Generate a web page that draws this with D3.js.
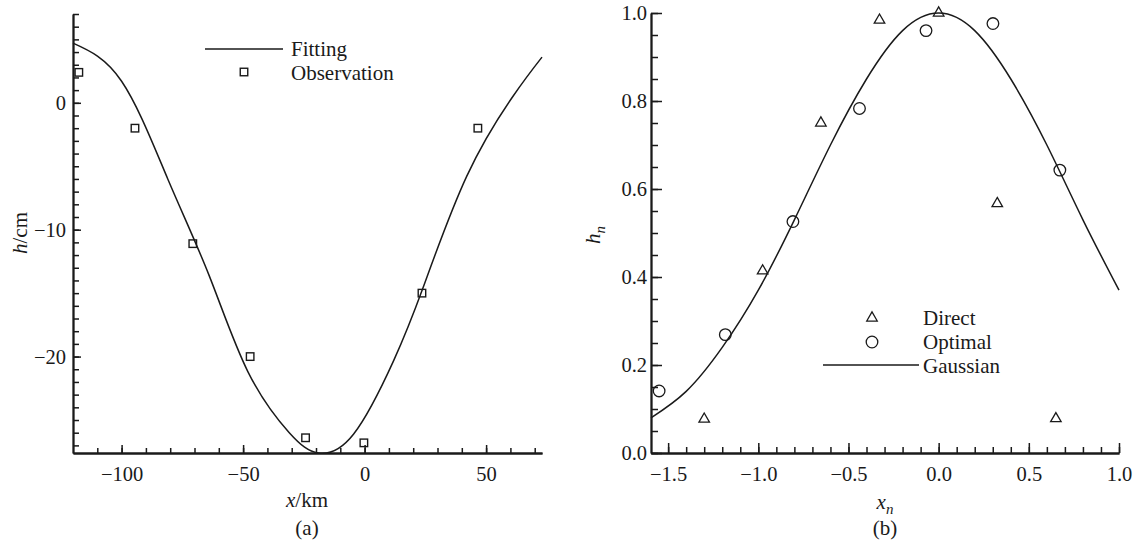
<!DOCTYPE html>
<html>
<head>
<meta charset="utf-8">
<script src="https://cdn.jsdelivr.net/npm/d3@7"></script>
<style>
  body { margin: 0; background: #fff; }
  svg text { font-family: "Liberation Serif", "Times New Roman", serif; fill: #1a1a1a; }
</style>
</head>
<body>
<div id="wrapper"></div>
<script>
// panel (a): fitted curve
const fitX = [-120, -100, -81, -64, -48, -31, -19, -4.5, 12, 24, 42, 61, 73]
const fitH = [4.7, 1.7, -6.0, -13.6, -21.2, -26.0, -27.6, -26.1, -20.3, -14.6, -5.8, 0.5, 3.6]

// panel (a): observations
const obsX = [-117.6, -94.5, -70.7, -47.1, -24.3, -0.3, 23.6, 46.6]
const obsH = [2.4, -2.0, -11.1, -20.0, -26.4, -26.8, -15.0, -2.0]

// panel (b): gaussian curve
const gaussX = [-1.595, -1.4, -1.2, -1.0, -0.8, -0.6, -0.4, -0.2, 0, 0.2, 0.4, 0.6, 0.8, 1.0]
const gaussH = [0.08, 0.14, 0.24, 0.37, 0.53, 0.70, 0.85, 0.96, 1.0, 0.96, 0.85, 0.70, 0.53, 0.37]

// panel (b): direct and optimal points
const directX = [-1.30, -0.976, -0.653, -0.328, 0.0, 0.325, 0.65]
const directH = [0.077, 0.414, 0.75, 0.984, 1.0, 0.567, 0.078]
const optimalX = [-1.55, -1.183, -0.808, -0.439, -0.07, 0.301, 0.672]
const optimalH = [0.141, 0.269, 0.526, 0.783, 0.960, 0.976, 0.643]

// ticks
const aXTicks = [-100, -50, 0, 50]
const aYTicks = [-20, -10, 0]
const bXTicks = [-1.5, -1.0, -0.5, 0.0, 0.5, 1.0]
const bYTicks = [0.0, 0.2, 0.4, 0.6, 0.8, 1.0]

const legendA = ["Fitting", "Observation"]
const legendB = ["Direct", "Optimal", "Gaussian"]

const serif = "'Liberation Serif', 'Times New Roman', serif"

function drawChart() {

  const dimensions = {
    width: 1135,
    height: 543,
    a: { left: 73, right: 542, top: 14, bottom: 453 },
    b: { left: 651, right: 1119, top: 13, bottom: 453 },
  }

  const svg = d3.select("#wrapper")
    .append("svg")
    .attr("width", dimensions.width)
    .attr("height", dimensions.height)

  const xScaleA = d3.scaleLinear()
    .domain([-120, 73])
    .range([dimensions.a.left, dimensions.a.right])
  const yScaleA = d3.scaleLinear()
    .domain([-27.6, 7])
    .range([dimensions.a.bottom, dimensions.a.top])

  const xScaleB = d3.scaleLinear()
    .domain([-1.595, 1.0])
    .range([dimensions.b.left, dimensions.b.right])
  const yScaleB = d3.scaleLinear()
    .domain([0, 1])
    .range([dimensions.b.bottom, dimensions.b.top])

  // axes with inward ticks, minor ticks drawn as a second axis
  function drawAxes(xScale, yScale, dims, opts) {
    const minorX = svg.append("g")
      .attr("transform", `translate(0,${dims.bottom})`)
      .call(d3.axisBottom(xScale).tickValues(opts.xMinor).tickFormat("").tickSizeInner(-opts.xMinorLen).tickSizeOuter(0))
    const minorY = svg.append("g")
      .attr("transform", `translate(${dims.left},0)`)
      .call(d3.axisLeft(yScale).tickValues(opts.yMinor).tickFormat("").tickSizeInner(-opts.yMinorLen).tickSizeOuter(0))

    const xAxis = svg.append("g")
      .attr("transform", `translate(0,${dims.bottom})`)
      .call(d3.axisBottom(xScale).tickValues(opts.xTicks).tickFormat(opts.xFormat)
        .tickSizeInner(-opts.xMajorLen).tickSizeOuter(0).tickPadding(opts.xPad))
    const yAxis = svg.append("g")
      .attr("transform", `translate(${dims.left},0)`)
      .call(d3.axisLeft(yScale).tickValues(opts.yTicks).tickFormat(opts.yFormat)
        .tickSizeInner(-opts.yMajorLen).tickSizeOuter(0).tickPadding(opts.yPad))

    ;[minorX, minorY, xAxis, yAxis].forEach(g => {
      g.attr("font-family", serif).attr("font-size", 20.5)
      g.select(".domain").attr("stroke", "#1a1a1a").attr("stroke-width", 1.8)
      g.selectAll(".tick line").attr("stroke", "#1a1a1a").attr("stroke-width", 1.5)
      g.selectAll(".tick text")
        .style("font-family", serif)
        .style("font-size", "20.5px")
        .attr("fill", "#1a1a1a")
    })
  }

  drawAxes(xScaleA, yScaleA, dimensions.a, {
    xTicks: aXTicks, yTicks: aYTicks,
    xMinor: d3.range(-110, 73, 10), yMinor: d3.range(-27, 8, 1),
    xFormat: d3.format("d"), yFormat: d3.format("d"),
    xMajorLen: 8, xMinorLen: 5, yMajorLen: 8, yMinorLen: 6,
    xPad: 13, yPad: 7,
  })

  drawAxes(xScaleB, yScaleB, dimensions.b, {
    xTicks: bXTicks, yTicks: bYTicks,
    xMinor: d3.range(-1.5, 1.01, 0.1), yMinor: d3.range(0, 1.01, 0.05),
    xFormat: d3.format(".1f"), yFormat: d3.format(".1f"),
    xMajorLen: 10, xMinorLen: 6, yMajorLen: 11, yMinorLen: 7,
    xPad: 13, yPad: 4,
  })

  // panel (a) marks
  const lineA = d3.line()
    .x(i => xScaleA(fitX[i]))
    .y(i => yScaleA(fitH[i]))
    .curve(d3.curveNatural)

  svg.append("path")
    .attr("d", lineA(d3.range(fitX.length)))
    .attr("fill", "none")
    .attr("stroke", "#1a1a1a")
    .attr("stroke-width", 1.5)

  const sq = 7.5
  svg.append("g").selectAll("rect")
    .data(d3.range(obsX.length))
    .join("rect")
    .attr("x", i => xScaleA(obsX[i]) - sq / 2)
    .attr("y", i => yScaleA(obsH[i]) - sq / 2)
    .attr("width", sq)
    .attr("height", sq)
    .attr("fill", "none")
    .attr("stroke", "#1a1a1a")
    .attr("stroke-width", 1.4)

  // panel (b) marks
  const lineB = d3.line()
    .x(i => xScaleB(gaussX[i]))
    .y(i => yScaleB(gaussH[i]))
    .curve(d3.curveNatural)

  svg.append("path")
    .attr("d", lineB(d3.range(gaussX.length)))
    .attr("fill", "none")
    .attr("stroke", "#1a1a1a")
    .attr("stroke-width", 1.5)

  const triangle = d3.symbol().type(d3.symbolTriangle).size(48)

  svg.append("g").selectAll("path")
    .data(d3.range(directX.length))
    .join("path")
    .attr("d", triangle)
    .attr("transform", i => `translate(${xScaleB(directX[i])},${yScaleB(directH[i])})`)
    .attr("fill", "none")
    .attr("stroke", "#1a1a1a")
    .attr("stroke-width", 1.3)

  svg.append("g").selectAll("circle")
    .data(d3.range(optimalX.length))
    .join("circle")
    .attr("cx", i => xScaleB(optimalX[i]))
    .attr("cy", i => yScaleB(optimalH[i]))
    .attr("r", 5.8)
    .attr("fill", "none")
    .attr("stroke", "#1a1a1a")
    .attr("stroke-width", 1.3)

  // legend (a)
  const legA = svg.append("g")
  legA.append("line")
    .attr("x1", 205).attr("x2", 283)
    .attr("y1", 49).attr("y2", 49)
    .attr("stroke", "#1a1a1a").attr("stroke-width", 1.5)
  legA.append("rect")
    .attr("x", 244 - sq / 2).attr("y", 72 - sq / 2)
    .attr("width", sq).attr("height", sq)
    .attr("fill", "none").attr("stroke", "#1a1a1a").attr("stroke-width", 1.4)
  legA.selectAll("text")
    .data(legendA)
    .join("text")
    .attr("x", 291)
    .attr("y", (d, i) => 56 + i * 24)
    .style("font-size", "21px")
    .text(d => d)

  // legend (b)
  const legB = svg.append("g")
  legB.append("path")
    .attr("d", triangle)
    .attr("transform", "translate(872,318)")
    .attr("fill", "none").attr("stroke", "#1a1a1a").attr("stroke-width", 1.3)
  legB.append("circle")
    .attr("cx", 872).attr("cy", 342).attr("r", 5.8)
    .attr("fill", "none").attr("stroke", "#1a1a1a").attr("stroke-width", 1.3)
  legB.append("line")
    .attr("x1", 823).attr("x2", 919)
    .attr("y1", 365).attr("y2", 365)
    .attr("stroke", "#1a1a1a").attr("stroke-width", 1.5)
  legB.selectAll("text")
    .data(legendB)
    .join("text")
    .attr("x", 923)
    .attr("y", (d, i) => 325 + i * 24)
    .style("font-size", "21px")
    .text(d => d)

  // axis titles
  const yTitleA = svg.append("text")
    .attr("transform", "translate(27,233) rotate(-90)")
    .attr("text-anchor", "middle")
    .style("font-size", "21px")
  yTitleA.append("tspan").style("font-style", "italic").text("h")
  yTitleA.append("tspan").text("/cm")

  const xTitleA = svg.append("text")
    .attr("x", 307).attr("y", 507)
    .attr("text-anchor", "middle")
    .style("font-size", "21px")
  xTitleA.append("tspan").style("font-style", "italic").text("x")
  xTitleA.append("tspan").text("/km")

  svg.append("text")
    .attr("x", 307).attr("y", 535)
    .attr("text-anchor", "middle")
    .style("font-size", "21px")
    .text("(a)")

  const yTitleB = svg.append("text")
    .attr("transform", "translate(600,235) rotate(-90)")
    .attr("text-anchor", "middle")
    .style("font-size", "21px")
  yTitleB.append("tspan").style("font-style", "italic").text("h")
  yTitleB.append("tspan").style("font-style", "italic").style("font-size", "15px").attr("dy", 5).text("n")

  const xTitleB = svg.append("text")
    .attr("x", 885).attr("y", 509)
    .attr("text-anchor", "middle")
    .style("font-size", "21px")
  xTitleB.append("tspan").style("font-style", "italic").text("x")
  xTitleB.append("tspan").style("font-style", "italic").style("font-size", "15px").attr("dy", 5).text("n")

  svg.append("text")
    .attr("x", 885).attr("y", 535)
    .attr("text-anchor", "middle")
    .style("font-size", "21px")
    .text("(b)")
}

drawChart()
</script>
</body>
</html>
